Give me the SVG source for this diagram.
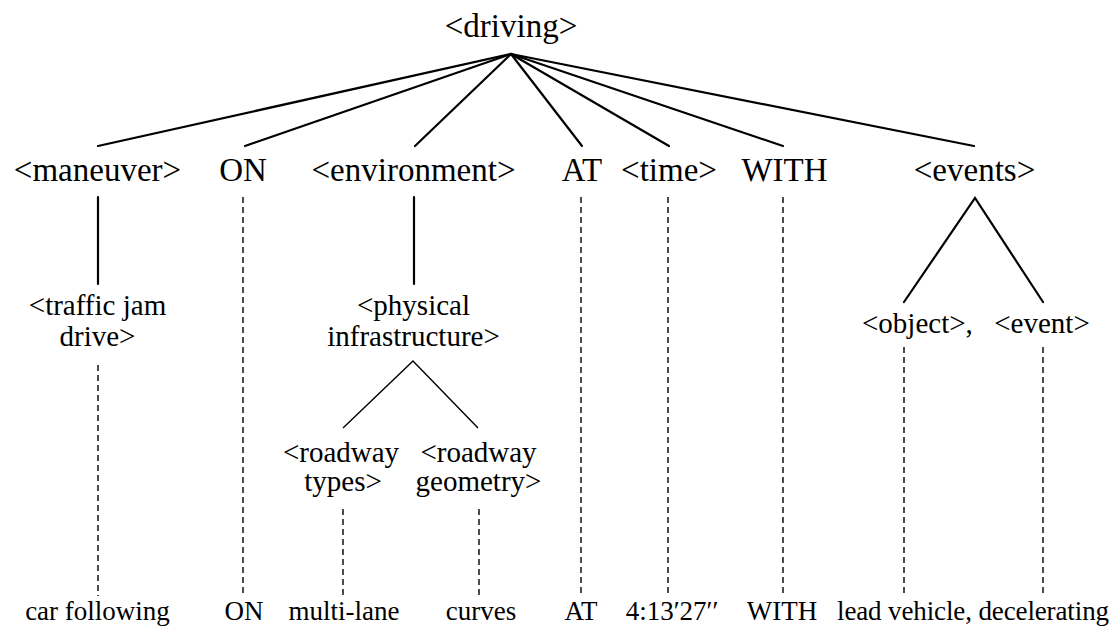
<svg xmlns="http://www.w3.org/2000/svg" width="1113" height="628" viewBox="0 0 1113 628">
<style>
text{font-family:"Liberation Serif","Times New Roman",serif;fill:#000;text-anchor:middle}
.t1{font-size:33px}
.t2{font-size:29px}
.t3{font-size:27px}
.solid{stroke:#000;stroke-width:2.2;fill:none;stroke-linecap:round}
.thin{stroke:#000;stroke-width:1.4;fill:none}
.dash{stroke:#000;stroke-width:1.4;fill:none;stroke-dasharray:6 4}
</style>
<rect width="1113" height="628" fill="#fff"/>
<g id="connectors">
<line class="solid" x1="511" y1="54" x2="98" y2="146"/>
<line class="solid" x1="511" y1="54" x2="245" y2="146"/>
<line class="solid" x1="511" y1="54" x2="415" y2="146"/>
<line class="solid" x1="511" y1="54" x2="582" y2="146"/>
<line class="solid" x1="511" y1="54" x2="669" y2="146"/>
<line class="solid" x1="511" y1="54" x2="783" y2="146"/>
<line class="solid" x1="511" y1="54" x2="974" y2="146"/>
<line class="solid" x1="98" y1="197" x2="98" y2="284"/>
<line class="solid" x1="414" y1="197" x2="414" y2="284"/>
<polyline class="solid" points="904,302 975,198 1043,302"/>
<polyline class="thin" points="343,428 413,361 478,428"/>
<line class="dash" x1="98" y1="365" x2="98" y2="596"/>
<line class="dash" x1="243" y1="197" x2="243" y2="596"/>
<line class="dash" x1="343" y1="509" x2="343" y2="596"/>
<line class="dash" x1="479" y1="509" x2="479" y2="596"/>
<line class="dash" x1="581" y1="197" x2="581" y2="596"/>
<line class="dash" x1="668" y1="197" x2="668" y2="596"/>
<line class="dash" x1="783" y1="197" x2="783" y2="596"/>
<line class="dash" x1="904" y1="347" x2="904" y2="596"/>
<line class="dash" x1="1043" y1="347" x2="1043" y2="596"/>
</g>
<g id="driving"><text class="t1" x="511" y="37">&lt;driving&gt;</text></g>
<g id="maneuver"><text class="t1" x="97.5" y="181">&lt;maneuver&gt;</text></g>
<g id="on"><text class="t1" x="243" y="181">ON</text></g>
<g id="environment"><text class="t1" x="413.5" y="181">&lt;environment&gt;</text></g>
<g id="at"><text class="t1" x="582" y="181">AT</text></g>
<g id="time"><text class="t1" x="669" y="181">&lt;time&gt;</text></g>
<g id="with"><text class="t1" x="784.5" y="181">WITH</text></g>
<g id="events"><text class="t1" x="974.5" y="181">&lt;events&gt;</text></g>
<g id="traffic-jam-drive"><text class="t2" x="97.5" y="315">&lt;traffic jam</text><text class="t2" x="97.5" y="346">drive&gt;</text></g>
<g id="physical-infrastructure"><text class="t2" x="413.5" y="315">&lt;physical</text><text class="t2" x="413.5" y="346">infrastructure&gt;</text></g>
<g id="roadway-types"><text class="t2" x="341" y="462">&lt;roadway</text><text class="t2" x="343" y="491">types&gt;</text></g>
<g id="roadway-geometry"><text class="t2" x="478.5" y="462">&lt;roadway</text><text class="t2" x="478.5" y="491">geometry&gt;</text></g>
<g id="object"><text class="t2" x="862" y="333" style="text-anchor:start">&lt;object&gt;,</text></g>
<g id="event"><text class="t2" x="1042" y="333">&lt;event&gt;</text></g>
<g id="car-following"><text class="t3" x="97.5" y="620">car following</text></g>
<g id="on-leaf"><text class="t3" x="244" y="620">ON</text></g>
<g id="multi-lane"><text class="t3" x="344" y="620">multi-lane</text></g>
<g id="curves"><text class="t3" x="481" y="620">curves</text></g>
<g id="at-leaf"><text class="t3" x="581" y="620">AT</text></g>
<g id="time-leaf"><text class="t3" x="672" y="620">4:13′27′′</text></g>
<g id="with-leaf"><text class="t3" x="782" y="620">WITH</text></g>
<g id="lead-vehicle"><text class="t3" x="837" y="620" style="text-anchor:start" textLength="272">lead vehicle, decelerating</text></g>
</svg>
